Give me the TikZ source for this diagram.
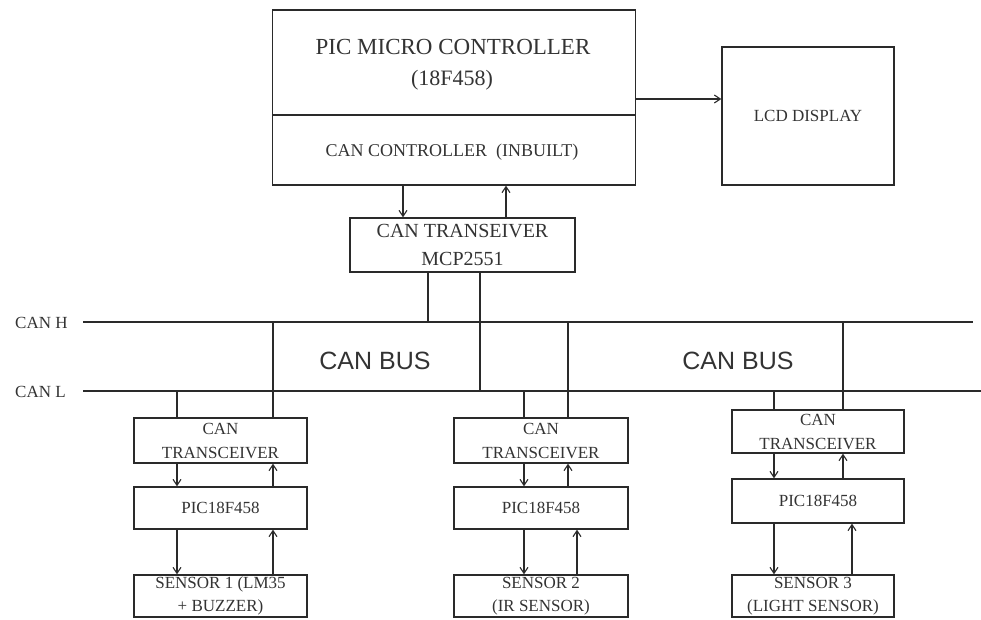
\documentclass[tikz,border=0pt]{standalone}
\usepackage{fontspec}
\setmainfont{Liberation Serif}
\setsansfont{Liberation Sans}
\usetikzlibrary{arrows.meta}
\definecolor{txt}{HTML}{333333}
\definecolor{ln}{HTML}{2A2A2A}
\tikzset{
  blk/.style={draw=ln, line width=1.4pt, rectangle, inner sep=0pt, text=txt, align=center},
  lbl/.style={inner sep=0pt, text=txt, align=center},
  wire/.style={draw=ln, line width=1.1pt},
  busline/.style={draw=ln, line width=2.6pt},
  arr/.style={wire, -{Straight Barb[length=6pt,width=8pt]}},
  small/.style={font=\fontsize{17}{24}\selectfont},
  sens/.style={font=\fontsize{17}{23}\selectfont},
}
\begin{document}
\begin{tikzpicture}[x=1pt,y=-1pt]
\useasboundingbox (0,0) rectangle (981,619);
% helper coordinates
\coordinate (y99) at (0,99);
\coordinate (y115) at (0,115);
% main controller
\node[blk, minimum width=363pt, minimum height=175pt] (main) at (454,97.5) {};
\draw[ln, line width=1.4pt] (main.west |- y115) -- (main.east |- y115);
\node[lbl, font=\fontsize{23}{28}\selectfont] (title) at (453,47) {PIC MICRO CONTROLLER};
\node[lbl, font=\fontsize{22}{26}\selectfont] (chip) at (452,80) {(18F458)};
\node[lbl, font=\fontsize{18}{22}\selectfont] (ctrl) at (452,152) {CAN CONTROLLER\ \ (INBUILT)};
% LCD
\node[blk, minimum width=172pt, minimum height=138pt, font=\fontsize{17}{20}\selectfont] (lcd) at (808,116) {LCD DISPLAY};
\draw[arr] (main.east |- y99) -- (lcd.west |- y99);
% MCP2551
\node[blk, minimum width=225pt, minimum height=54pt, font=\fontsize{20}{28}\selectfont] (mcp) at (462.5,245) {CAN TRANSEIVER\\MCP2551};
\coordinate (xa) at (403,0);
\coordinate (xb) at (506,0);
\draw[arr] (xa |- main.south) -- (xa |- mcp.north);
\draw[arr] (xb |- mcp.north) -- (xb |- main.south);
% bus
\coordinate (hL) at (83,322);
\coordinate (hR) at (973,322);
\coordinate (lL) at (83,391);
\coordinate (lR) at (981,391);
\draw[busline] (hL) -- (hR);
\draw[busline] (lL) -- (lR);
\node[lbl, anchor=west, font=\fontsize{17}{20}\selectfont] (canh) at (15,323) {CAN H};
\node[lbl, anchor=west, font=\fontsize{17}{20}\selectfont] (canl) at (15,392) {CAN L};
\node[lbl, font=\sffamily\fontsize{25}{30}\selectfont] (bus1) at (375,361) {CAN BUS};
\node[lbl, font=\sffamily\fontsize{25}{30}\selectfont] (bus2) at (738,361) {CAN BUS};
\coordinate (xc) at (428,0);
\coordinate (xd) at (480,0);
\draw[wire] (xc |- mcp.south) -- (xc |- hL);
\draw[wire] (xd |- mcp.south) -- (xd |- lL);
% node 1
\node[blk, small, minimum width=173pt, minimum height=45pt] (t1) at (220.5,440.5) {CAN\\TRANSCEIVER};
\node[blk, small, minimum width=173pt, minimum height=42pt] (p1) at (220.5,508) {PIC18F458};
\node[blk, sens, minimum width=173pt, minimum height=42pt] (s1) at (220.5,596) {SENSOR 1 (LM35\\+ BUZZER)};
\coordinate (x1a) at (177,0);
\coordinate (x1b) at (273,0);
\draw[wire] (x1a |- lL) -- (x1a |- t1.north);
\draw[wire] (x1b |- hL) -- (x1b |- t1.north);
\draw[arr] (x1a |- t1.south) -- (x1a |- p1.north);
\draw[arr] (x1b |- p1.north) -- (x1b |- t1.south);
\draw[arr] (x1a |- p1.south) -- (x1a |- s1.north);
\draw[arr] (x1b |- s1.north) -- (x1b |- p1.south);
% node 2
\node[blk, small, minimum width=174pt, minimum height=45pt] (t2) at (541,440.5) {CAN\\TRANSCEIVER};
\node[blk, small, minimum width=174pt, minimum height=42pt] (p2) at (541,508) {PIC18F458};
\node[blk, sens, minimum width=174pt, minimum height=42pt] (s2) at (541,596) {SENSOR 2\\(IR SENSOR)};
\coordinate (x2a) at (524,0);
\coordinate (x2b) at (568,0);
\coordinate (x2c) at (577,0);
\draw[wire] (x2a |- lL) -- (x2a |- t2.north);
\draw[wire] (x2b |- hL) -- (x2b |- t2.north);
\draw[arr] (x2a |- t2.south) -- (x2a |- p2.north);
\draw[arr] (x2b |- p2.north) -- (x2b |- t2.south);
\draw[arr] (x2a |- p2.south) -- (x2a |- s2.north);
\draw[arr] (x2c |- s2.north) -- (x2c |- p2.south);
% node 3
\node[blk, small, minimum width=172pt, minimum height=43pt] (t3) at (818,431.5) {CAN\\TRANSCEIVER};
\node[blk, small, minimum width=172pt, minimum height=44pt] (p3) at (818,501) {PIC18F458};
\node[blk, sens, minimum width=162pt, minimum height=42pt] (s3) at (813,596) {SENSOR 3\\(LIGHT SENSOR)};
\coordinate (x3a) at (774,0);
\coordinate (x3b) at (843,0);
\coordinate (x3c) at (852,0);
\draw[wire] (x3a |- lL) -- (x3a |- t3.north);
\draw[wire] (x3b |- hL) -- (x3b |- t3.north);
\draw[arr] (x3a |- t3.south) -- (x3a |- p3.north);
\draw[arr] (x3b |- p3.north) -- (x3b |- t3.south);
\draw[arr] (x3a |- p3.south) -- (x3a |- s3.north);
\draw[arr] (x3c |- s3.north) -- (x3c |- p3.south);
\end{tikzpicture}
\end{document}
